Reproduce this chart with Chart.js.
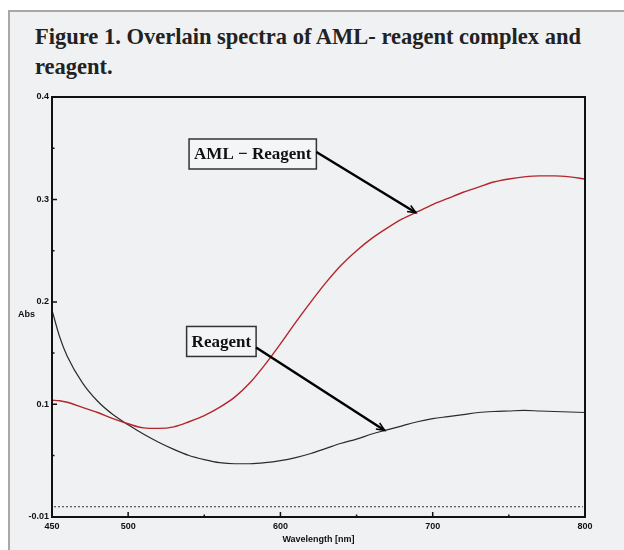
<!DOCTYPE html>
<html>
<head>
<meta charset="utf-8">
<script src="https://cdn.jsdelivr.net/npm/chart.js@4.4.0/dist/chart.umd.min.js"></script>
<style>
html, body { margin: 0; padding: 0; background: #fff; }
body { width: 624px; height: 550px; overflow: hidden; position: relative; }
#panel { position: absolute; left: 8px; top: 10px; width: 700px; height: 600px; border: 2px solid #a8a8a8; background: #f0f1f3; }
#title { position: absolute; left: 35px; top: 22px; margin: 0; font: bold 22.5px "Liberation Serif", serif; line-height: 30px; color: #222; }
#wrap { position: absolute; left: 0; top: 0; width: 624px; height: 550px; }
</style>
</head>
<body>
<div id="panel"></div>
<h1 id="title">Figure 1. Overlain spectra of AML- reagent complex and<br>reagent.</h1>
<div id="wrap"><canvas id="chart"></canvas></div>
<script>
// wavelength (nm) and absorbance
const wavelengths = [450, 455, 460, 470, 480, 490, 500, 510, 520, 530, 540, 550, 560, 570, 580, 590, 600, 610, 620,
    630, 640, 650, 660, 670, 680, 690, 700, 710, 720, 730, 740, 750, 760, 770, 780, 790, 800];
const amlReagent = [0.104, 0.1035, 0.102, 0.097, 0.092, 0.086, 0.081, 0.077, 0.0765, 0.078, 0.083, 0.089, 0.097, 0.107,
    0.121, 0.139, 0.159, 0.180, 0.200, 0.219, 0.236, 0.250, 0.262, 0.272, 0.281, 0.288, 0.295, 0.301, 0.307, 0.312,
    0.317, 0.320, 0.322, 0.323, 0.323, 0.322, 0.320];
const reagent = [0.192, 0.166, 0.147, 0.121, 0.103, 0.090, 0.080, 0.071, 0.063, 0.056, 0.050, 0.046, 0.043, 0.042,
    0.042, 0.043, 0.045, 0.048, 0.052, 0.057, 0.062, 0.066, 0.071, 0.075, 0.079, 0.083, 0.086, 0.088, 0.090, 0.092,
    0.093, 0.0935, 0.094, 0.0935, 0.093, 0.0925, 0.092];

const xTicks = [450, 500, 600, 700, 800];
const xMinorTicks = [550, 650, 750];
const yTicks = [-0.01, 0.1, 0.2, 0.3, 0.4];
const yMinorTicks = [0.05, 0.15, 0.25, 0.35];

// callout boxes (box corner and arrow tip in data units)
const notes = [
    { text: "AML \u2212 Reagent", boxX: 540, boxY: 0.359, startDy: 13, tipX: 689, tipY: 0.287 },
    { text: "Reagent", boxX: 538.4, boxY: 0.176, startDy: 21, tipX: 668.5, tipY: 0.0745 }
];

const tickFont = { family: "'Liberation Sans', sans-serif", size: 9, weight: "bold" };

function toPoints(ys) {
    return wavelengths.map((w, i) => ({ x: w, y: ys[i] }));
}

const decorPlugin = {
    id: "decor",
    beforeDatasetsDraw(chart) {
        const ctx = chart.ctx, a = chart.chartArea;
        const y0 = chart.scales.y.getPixelForValue(0);
        ctx.save();
        ctx.strokeStyle = "#333";
        ctx.lineWidth = 1;
        ctx.setLineDash([2, 2]);
        ctx.beginPath();
        ctx.moveTo(a.left + 2, y0);
        ctx.lineTo(a.right - 2, y0);
        ctx.stroke();
        ctx.restore();
    },
    afterDatasetsDraw(chart) {
        const ctx = chart.ctx, a = chart.chartArea;
        const xs = chart.scales.x, ys = chart.scales.y;
        ctx.save();
        // frame
        ctx.strokeStyle = "#111";
        ctx.lineWidth = 2;
        ctx.strokeRect(a.left, a.top, a.right - a.left, a.bottom - a.top);

        // tick marks drawn inward
        ctx.lineWidth = 1.5;
        ctx.beginPath();
        yTicks.forEach(v => { const p = ys.getPixelForValue(v); ctx.moveTo(a.left, p); ctx.lineTo(a.left + 5, p); });
        yMinorTicks.forEach(v => { const p = ys.getPixelForValue(v); ctx.moveTo(a.left, p); ctx.lineTo(a.left + 2.5, p); });
        xTicks.forEach(v => { const p = xs.getPixelForValue(v); ctx.moveTo(p, a.bottom); ctx.lineTo(p, a.bottom - 5); });
        xMinorTicks.forEach(v => { const p = xs.getPixelForValue(v); ctx.moveTo(p, a.bottom); ctx.lineTo(p, a.bottom - 2.5); });
        ctx.stroke();

        // y axis label
        ctx.fillStyle = "#111";
        ctx.font = "bold 9px 'Liberation Sans', sans-serif";
        ctx.textAlign = "left";
        ctx.textBaseline = "middle";
        ctx.fillText("Abs", 18, ys.getPixelForValue(0.188));

        // callouts
        notes.forEach(n => {
            ctx.font = "bold 17px 'Liberation Serif', serif";
            const w = ctx.measureText(n.text).width + 10;
            const h = 30;
            const bx = xs.getPixelForValue(n.boxX), by = ys.getPixelForValue(n.boxY);
            ctx.lineWidth = 1.5;
            ctx.strokeStyle = "#333";
            ctx.fillStyle = "#f4f5f7";
            ctx.fillRect(bx, by, w, h);
            ctx.strokeRect(bx, by, w, h);
            ctx.fillStyle = "#111";
            ctx.textAlign = "center";
            ctx.textBaseline = "middle";
            ctx.fillText(n.text, bx + w / 2, by + h / 2 + 1);

            const sx = bx + w, sy = by + n.startDy;
            const tx = xs.getPixelForValue(n.tipX), ty = ys.getPixelForValue(n.tipY);
            ctx.strokeStyle = "#000";
            ctx.lineWidth = 2.5;
            ctx.beginPath();
            ctx.moveTo(sx, sy);
            ctx.lineTo(tx, ty);
            ctx.stroke();
            const ang = Math.atan2(ty - sy, tx - sx);
            ctx.lineWidth = 1.5;
            ctx.beginPath();
            ctx.moveTo(tx - 9 * Math.cos(ang - 0.4), ty - 9 * Math.sin(ang - 0.4));
            ctx.lineTo(tx, ty);
            ctx.lineTo(tx - 9 * Math.cos(ang + 0.4), ty - 9 * Math.sin(ang + 0.4));
            ctx.stroke();
        });
        ctx.restore();
    }
};

new Chart(document.getElementById("chart"), {
    type: "line",
    data: {
        datasets: [
            {
                label: "AML - Reagent",
                data: toPoints(amlReagent),
                borderColor: "#b3262b",
                borderWidth: 1.4,
                pointRadius: 0,
                cubicInterpolationMode: "monotone"
            },
            {
                label: "Reagent",
                data: toPoints(reagent),
                borderColor: "#2b2b2b",
                borderWidth: 1.2,
                pointRadius: 0,
                cubicInterpolationMode: "monotone"
            }
        ]
    },
    options: {
        responsive: true,
        maintainAspectRatio: false,
        animation: false,
        layout: { padding: { top: 97, right: 39, left: 0, bottom: 0 } },
        plugins: { legend: { display: false }, tooltip: { enabled: false } },
        scales: {
            x: {
                type: "linear",
                min: 450,
                max: 800,
                grid: { display: false, drawTicks: false },
                border: { display: false },
                afterBuildTicks: (scale) => { scale.ticks = xTicks.map(v => ({ value: v })); },
                afterFit: (scale) => { scale.height = 33; },
                ticks: { font: tickFont, color: "#111", padding: 4, maxRotation: 0, autoSkip: false },
                title: { display: true, text: "Wavelength [nm]", font: tickFont, color: "#111", padding: { top: 0, bottom: 5 } }
            },
            y: {
                min: -0.01,
                max: 0.4,
                grid: { display: false, drawTicks: false },
                border: { display: false },
                afterBuildTicks: (scale) => { scale.ticks = yTicks.map(v => ({ value: v })); },
                afterFit: (scale) => { scale.width = 52; },
                ticks: { font: tickFont, color: "#111", padding: 3, callback: (v) => String(v) }
            }
        }
    },
    plugins: [decorPlugin]
});
</script>
</body>
</html>
